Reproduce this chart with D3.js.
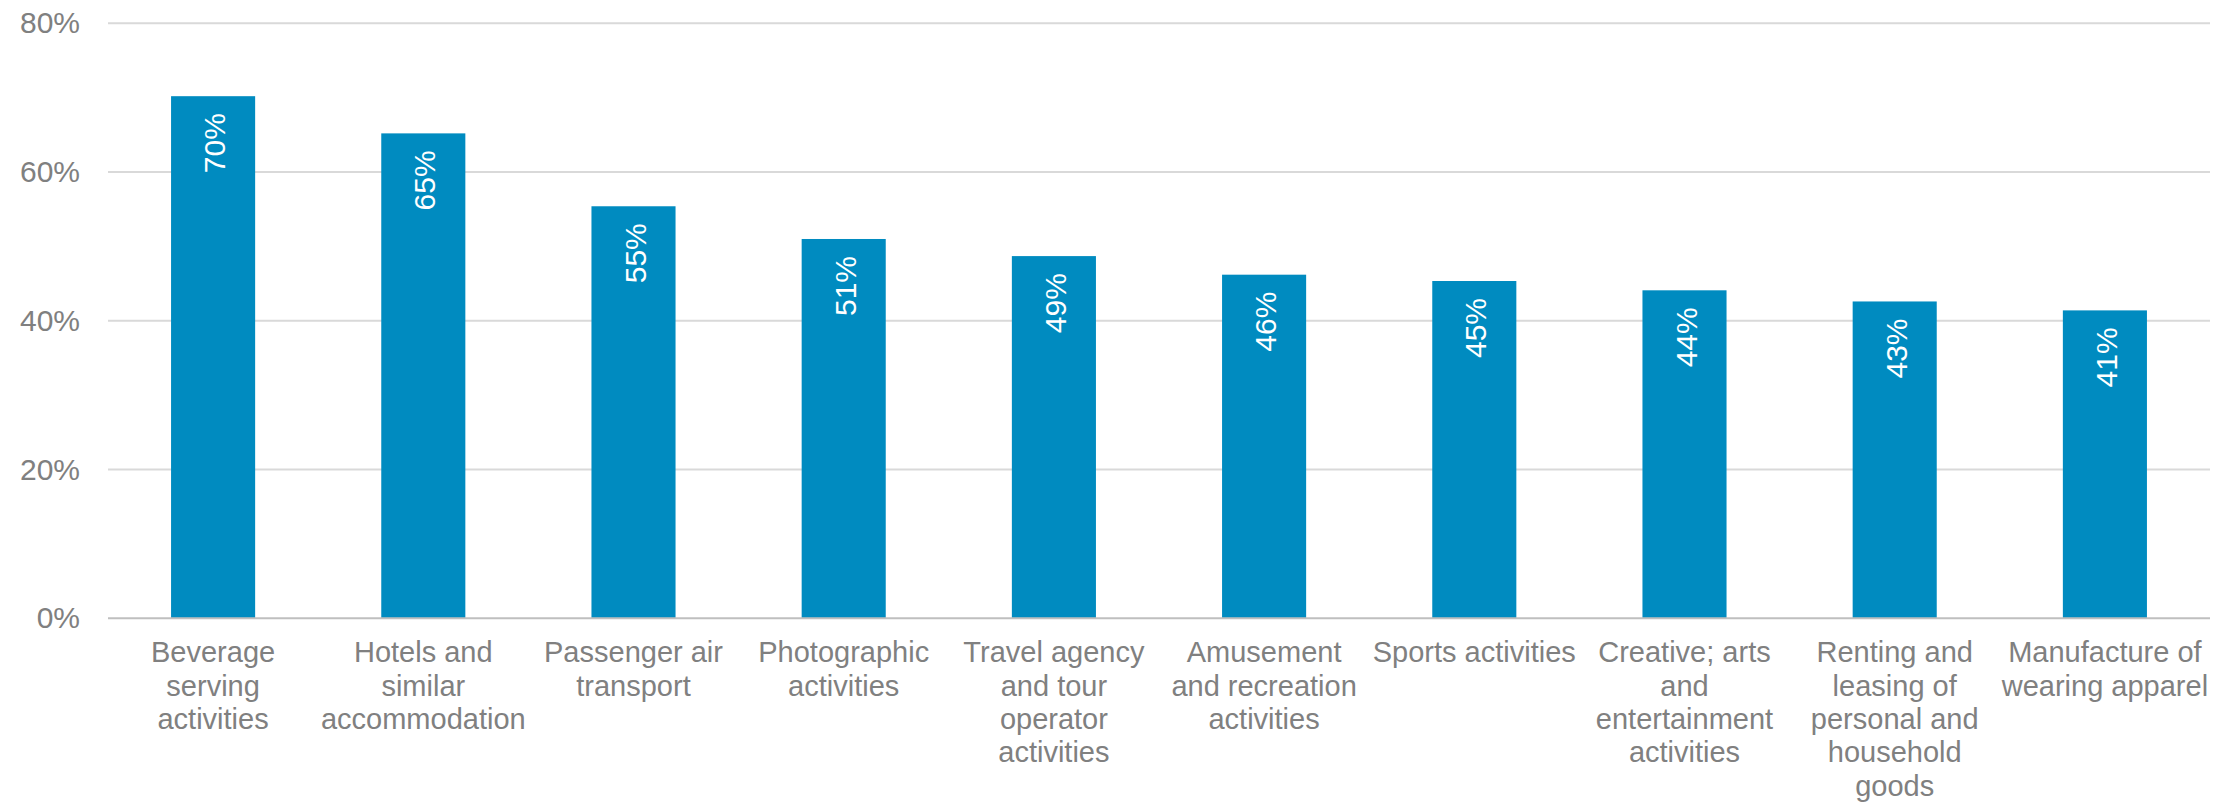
<!DOCTYPE html>
<html>
<head>
<meta charset="utf-8">
<script src="https://cdn.jsdelivr.net/npm/d3@7"></script>
<style>
  html, body { margin: 0; padding: 0; background: #ffffff; }
  svg { display: block; font-family: "Liberation Sans", Arial, sans-serif; }
</style>
</head>
<body>
<svg id="chart" width="2236" height="804"></svg>
<script>
// Share of firms by sector (percent); line breaks in the category names mark label wrapping
const categories = [
  "Beverage\nserving\nactivities",
  "Hotels and\nsimilar\naccommodation",
  "Passenger air\ntransport",
  "Photographic\nactivities",
  "Travel agency\nand tour\noperator\nactivities",
  "Amusement\nand recreation\nactivities",
  "Sports activities",
  "Creative; arts\nand\nentertainment\nactivities",
  "Renting and\nleasing of\npersonal and\nhousehold\ngoods",
  "Manufacture of\nwearing apparel"
];
const values = [70.2, 65.2, 55.4, 51.0, 48.7, 46.2, 45.35, 44.1, 42.6, 41.4];
const yTicks = [0, 20, 40, 60, 80];

const W = 2236, H = 804;
const margin = { left: 108, right: 26, top: 23.3, bottom: 804 - 618.3 };

const svg = d3.select("#chart");

const x = d3.scaleBand()
  .domain(categories)
  .range([margin.left, W - margin.right])
  .paddingInner(0.6)
  .paddingOuter(0.3);

const y = d3.scaleLinear()
  .domain([0, 80])
  .range([H - margin.bottom, margin.top]);

const textGray = "#808080";
const barColor = "#008bc0";

// Horizontal gridlines
svg.append("g")
  .selectAll("line")
  .data(yTicks.filter(t => t > 0))
  .join("line")
  .attr("x1", margin.left)
  .attr("x2", W - margin.right)
  .attr("y1", d => y(d))
  .attr("y2", d => y(d))
  .attr("stroke", "#d9d9d9")
  .attr("stroke-width", 2);

// Y axis tick labels
const yAxis = d3.axisLeft(y)
  .tickValues(yTicks)
  .tickFormat(d => d + "%")
  .tickSize(0)
  .tickPadding(28);

svg.append("g")
  .attr("transform", `translate(${margin.left},0)`)
  .call(yAxis)
  .call(g => g.select(".domain").remove())
  .call(g => g.selectAll("text")
    .attr("fill", textGray)
    .attr("font-size", 30)
    .attr("font-family", "Liberation Sans, Arial, sans-serif"));

// Bars
svg.append("g")
  .selectAll("rect")
  .data(values)
  .join("rect")
  .attr("x", (d, i) => x(categories[i]))
  .attr("width", x.bandwidth())
  .attr("y", d => y(d))
  .attr("height", d => y(0) - y(d))
  .attr("fill", barColor);

// Baseline axis
const xAxis = d3.axisBottom(x).tickSize(0).tickFormat("");
svg.append("g")
  .attr("transform", `translate(0,${y(0)})`)
  .call(xAxis)
  .call(g => g.select(".domain")
    .attr("stroke", "#bfbfbf")
    .attr("stroke-width", 2)
    .attr("d", `M${margin.left},0H${W - margin.right}`));

// Value labels inside bars, rotated
const fmt = d3.format(".0f");
svg.append("g")
  .selectAll("text")
  .data(values)
  .join("text")
  .attr("transform", (d, i) => `translate(${x(categories[i]) + x.bandwidth() / 2},${y(d) + 17}) rotate(-90)`)
  .attr("text-anchor", "end")
  .attr("dy", "0.4em")
  .attr("fill", "#ffffff")
  .attr("font-size", 30)
  .text(d => fmt(d) + "%");

// Category labels, wrapped
const catG = svg.append("g")
  .selectAll("text")
  .data(categories)
  .join("text")
  .attr("x", d => x(d) + x.bandwidth() / 2)
  .attr("y", y(0) + 44)
  .attr("text-anchor", "middle")
  .attr("fill", textGray)
  .attr("font-size", 29);

catG.each(function (d) {
  const t = d3.select(this);
  d.split("\n").forEach((line, k) => {
    t.append("tspan")
      .attr("x", x(d) + x.bandwidth() / 2)
      .attr("dy", k === 0 ? 0 : 33.3)
      .text(line);
  });
});
</script>
</body>
</html>
